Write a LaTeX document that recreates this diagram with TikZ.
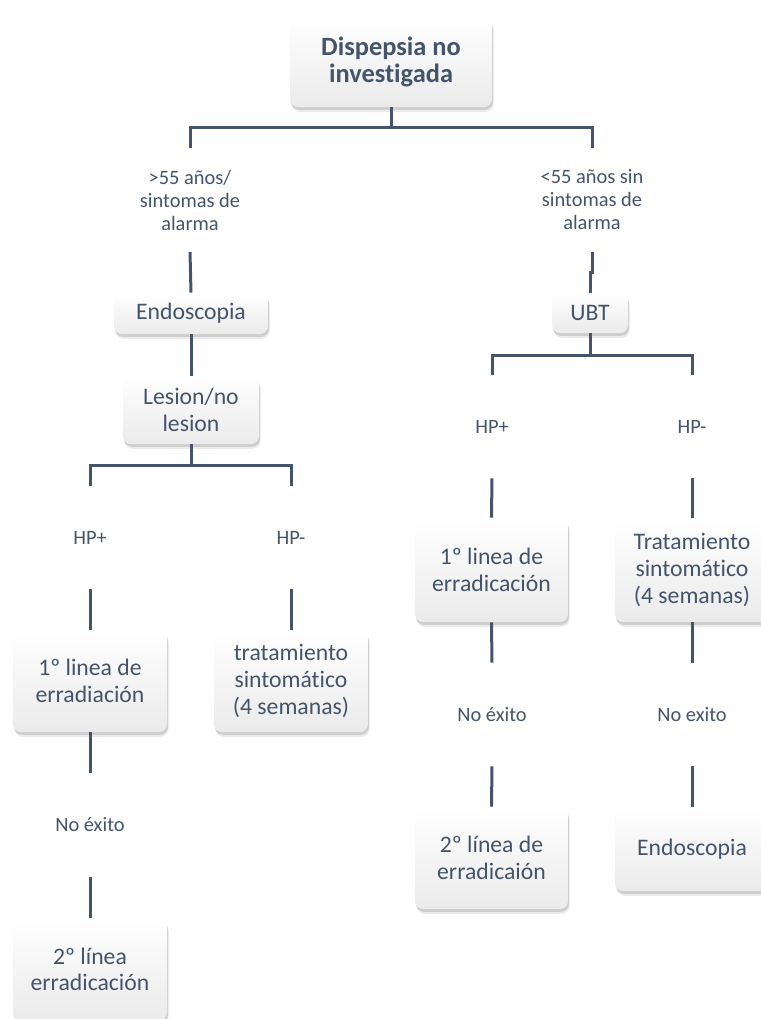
\documentclass[tikz,border=0pt]{standalone}
\usepackage{fontspec}
\setmainfont{Carlito}[Ligatures=NoCommon]
\usetikzlibrary{shadows}
\definecolor{slate}{HTML}{44546A}
\tikzset{
  box/.style={rounded corners=4pt,top color=white,bottom color=gray!16,text=slate,align=center,inner sep=0pt,
    font=\fontsize{11.85}{13.3}\selectfont,
    drop shadow={shadow xshift=0.8pt,shadow yshift=-2.4pt,opacity=0.08,fill=black},
    drop shadow={shadow xshift=0.5pt,shadow yshift=-1.4pt,opacity=0.12,fill=black}},
  lbl/.style={text=slate,align=center,inner sep=0pt,minimum width=77pt,minimum height=51.5pt,
    font=\fontsize{10.2}{11.5}\selectfont},
  conn/.style={draw=slate,line width=1.5pt}
}
\begin{document}
\begin{tikzpicture}[x=0.5pt,y=-0.5pt]
\useasboundingbox (0,0) rectangle (761,1019);
\node[box,font=\bfseries\fontsize{13.2}{13.4}\selectfont,minimum width=101pt,minimum height=45pt] (dni) at (391,62) {Dispepsia no\\investigada};
\node[lbl] (mayor) at (190,200) {>55 años/\\sintomas de\\alarma};
\node[lbl] (menor) at (592,200) {<55 años sin\\sintomas de\\alarma};
\node[box,minimum width=77pt,minimum height=20.5pt] (endo) at (191,313.5) {Endoscopia};
\node[box,minimum width=68pt,minimum height=34pt] (lesion) at (191,410) {Lesion/no\\lesion};
\node[lbl] (hpa) at (90,537.5) {HP+};
\node[lbl] (hpb) at (291,537.5) {HP-};
\node[box,minimum width=77pt,minimum height=51pt] (lineaA) at (90,681) {1º linea de\\erradiación};
\node[box,minimum width=77pt,minimum height=51pt] (tratA) at (291,681) {tratamiento\\sintomático\\(4 semanas)};
\node[lbl] (noexA) at (90,825) {No éxito};
\node[box,minimum width=77pt,minimum height=51pt] (segA) at (90,969.5) {2º línea\\erradicación};
\node[box,minimum width=38pt,minimum height=20pt] (ubt) at (590,313) {UBT};
\node[lbl] (hpc) at (492,426.5) {HP+};
\node[lbl] (hpd) at (692,426.5) {HP-};
\node[box,minimum width=76.5pt,minimum height=52pt] (lineaB) at (491.5,570) {1º linea de\\erradicación};
\node[box,minimum width=77pt,minimum height=52pt] (tratB) at (692,570) {Tratamiento\\sintomático\\(4 semanas)};
\node[lbl] (noexB) at (492,714.5) {No éxito};
\node[lbl] (noexC) at (692,714.5) {No exito};
\node[box,minimum width=76.5pt,minimum height=51pt] (segB) at (491.5,858) {2º línea de\\erradicaión};
\node[box,minimum width=77pt,minimum height=42pt] (endoB) at (692,849) {Endoscopia};
\draw[conn] (dni.south) -- ++(0,20) -| (mayor.north);
\draw[conn] (dni.south) -- ++(0,20) -| (menor.north);
\draw[conn] (mayor.south) -- (endo.north);
\draw[conn] (menor.south) -- ++(0,21) -| (ubt.north);
\draw[conn] (endo.south) -- (lesion.north);
\draw[conn] (lesion.south) -- ++(0,21) -| (hpa.north);
\draw[conn] (lesion.south) -- ++(0,21) -| (hpb.north);
\draw[conn] (hpa.south) -- (lineaA.north);
\draw[conn] (hpb.south) -- (tratA.north);
\draw[conn] (lineaA.south) -- (noexA.north);
\draw[conn] (noexA.south) -- (segA.north);
\draw[conn] (ubt.south) -- ++(0,22) -| (hpc.north);
\draw[conn] (ubt.south) -- ++(0,22) -| (hpd.north);
\draw[conn] (hpc.south) -- (lineaB.north);
\draw[conn] (hpd.south) -- (tratB.north);
\draw[conn] (lineaB.south) -- (noexB.north);
\draw[conn] (tratB.south) -- (noexC.north);
\draw[conn] (noexB.south) -- (segB.north);
\draw[conn] (noexC.south) -- (endoB.north);
\end{tikzpicture}
\end{document}
